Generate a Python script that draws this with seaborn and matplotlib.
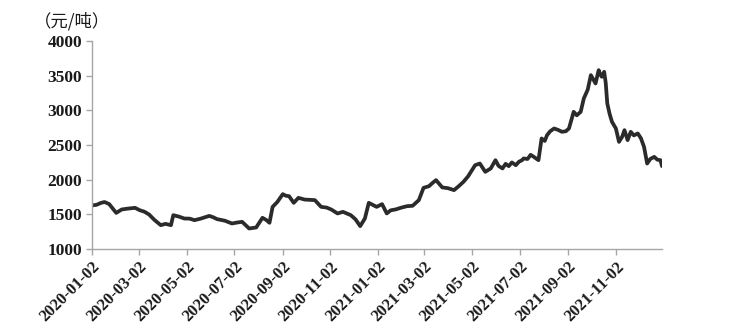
import matplotlib
matplotlib.use("Agg")
import matplotlib.pyplot as plt
import seaborn as sns
import pandas as pd

dates = [
    "2020-01-02", "2020-01-08", "2020-01-13", "2020-01-18", "2020-01-24", "2020-02-02",
    "2020-02-09", "2020-02-17", "2020-02-26", "2020-03-03", "2020-03-09", "2020-03-15",
    "2020-03-22", "2020-03-30", "2020-04-05", "2020-04-12", "2020-04-15", "2020-04-22",
    "2020-04-29", "2020-05-06", "2020-05-12", "2020-05-20", "2020-05-31", "2020-06-05",
    "2020-06-10", "2020-06-20", "2020-06-29", "2020-07-06", "2020-07-12", "2020-07-21",
    "2020-07-30", "2020-08-07", "2020-08-12", "2020-08-16", "2020-08-20", "2020-08-26",
    "2020-09-02", "2020-09-06", "2020-09-10", "2020-09-16", "2020-09-22", "2020-09-30",
    "2020-10-07", "2020-10-13", "2020-10-21", "2020-10-28", "2020-11-03", "2020-11-11",
    "2020-11-18", "2020-11-28", "2020-12-04", "2020-12-10", "2020-12-16", "2020-12-21",
    "2020-12-31", "2021-01-07", "2021-01-13", "2021-01-18", "2021-01-24", "2021-02-01",
    "2021-02-08", "2021-02-15", "2021-02-23", "2021-03-01", "2021-03-08", "2021-03-12",
    "2021-03-17", "2021-03-25", "2021-04-01", "2021-04-09", "2021-04-15", "2021-04-21",
    "2021-04-27", "2021-05-02", "2021-05-06", "2021-05-12", "2021-05-19", "2021-05-26",
    "2021-06-01", "2021-06-05", "2021-06-10", "2021-06-14", "2021-06-18", "2021-06-22",
    "2021-06-27", "2021-07-01", "2021-07-05", "2021-07-07", "2021-07-12", "2021-07-16",
    "2021-07-20", "2021-07-26", "2021-07-30", "2021-08-03", "2021-08-06", "2021-08-10",
    "2021-08-15", "2021-08-20", "2021-08-25", "2021-08-30", "2021-09-03", "2021-09-09",
    "2021-09-13", "2021-09-18", "2021-09-22", "2021-09-27", "2021-10-01", "2021-10-04",
    "2021-10-07", "2021-10-11", "2021-10-13", "2021-10-15", "2021-10-18", "2021-10-20",
    "2021-10-22", "2021-10-25", "2021-10-28", "2021-11-02", "2021-11-06", "2021-11-10",
    "2021-11-13", "2021-11-17", "2021-11-21", "2021-11-25", "2021-11-30", "2021-12-04",
    "2021-12-08", "2021-12-12", "2021-12-16", "2021-12-21", "2021-12-25", "2021-12-29",
    "2021-12-31",
]
prices = [
    1630, 1640, 1665, 1680, 1650, 1523,
    1572, 1585, 1596, 1562, 1540, 1500,
    1420, 1346, 1365, 1346, 1490, 1470,
    1442, 1440, 1418, 1440, 1480, 1460,
    1433, 1410, 1370, 1385, 1394, 1298,
    1313, 1452, 1420, 1380, 1610, 1680,
    1793, 1770, 1764, 1668, 1740, 1715,
    1710, 1707, 1610, 1600, 1572, 1515,
    1538, 1490, 1430, 1332, 1442, 1668,
    1610, 1649, 1515, 1560, 1572, 1600,
    1620, 1625, 1707, 1884, 1908, 1950,
    1995, 1890, 1880, 1851, 1908, 1970,
    2050, 2139, 2211, 2235, 2115, 2164,
    2283, 2200, 2164, 2230, 2197, 2250,
    2211, 2260, 2283, 2308, 2300, 2360,
    2331, 2283, 2596, 2560, 2644, 2700,
    2740, 2720, 2692, 2700, 2740, 2980,
    2930, 2980, 3173, 3300, 3509, 3450,
    3389, 3581, 3520, 3485, 3557, 3400,
    3101, 2950, 2836, 2740, 2547, 2620,
    2716, 2572, 2692, 2640, 2668, 2600,
    2475, 2235, 2300, 2331, 2290, 2283,
    2197,
]
tick_labels = [
    "2020-01-02", "2020-03-02", "2020-05-02", "2020-07-02", "2020-09-02", "2020-11-02",
    "2021-01-02", "2021-03-02", "2021-05-02", "2021-07-02", "2021-09-02", "2021-11-02",
]
y_ticks = [1000, 1500, 2000, 2500, 3000, 3500, 4000]

df = pd.DataFrame({"date": pd.to_datetime(dates), "price": prices})

sns.set_theme(style="white")
plt.rcParams["font.family"] = ["Liberation Serif", "DejaVu Serif"]

fig = plt.figure(figsize=(7.54, 3.34), dpi=100)
ax = fig.add_axes([0.122, 0.254, 0.756, 0.623])

sns.lineplot(data=df, x="date", y="price", ax=ax, color="#2b2b2b", linewidth=2.7)

ax.set_xlim(pd.Timestamp("2020-01-02"), pd.Timestamp("2021-12-31"))
ax.set_ylim(1000, 4000)
ax.set_yticks(y_ticks)
ax.set_yticklabels([str(v) for v in y_ticks], fontsize=12.5, fontweight="bold", color="#1a1a1a")
ax.set_xticks(pd.to_datetime(tick_labels))
ax.set_xticklabels(tick_labels, rotation=45, ha="right", rotation_mode="anchor",
                   fontsize=12, fontweight="bold", color="#1a1a1a")
ax.set_xlabel("")
ax.set_ylabel("")

for s in ["top", "right"]:
    ax.spines[s].set_visible(False)
for s in ["left", "bottom"]:
    ax.spines[s].set_color("#a6a6a6")
    ax.spines[s].set_linewidth(1.0)
ax.tick_params(axis="both", which="major", direction="out", length=4, width=1.0,
               color="#a6a6a6", pad=3, left=True, bottom=True)

fig.text(0.045, 0.937, "（元/吨）", fontsize=12.5, family=["Noto Sans CJK SC", "DejaVu Sans"],
         color="#1a1a1a", va="center", ha="left")

fig.savefig("out.png", dpi=100, facecolor="white")
